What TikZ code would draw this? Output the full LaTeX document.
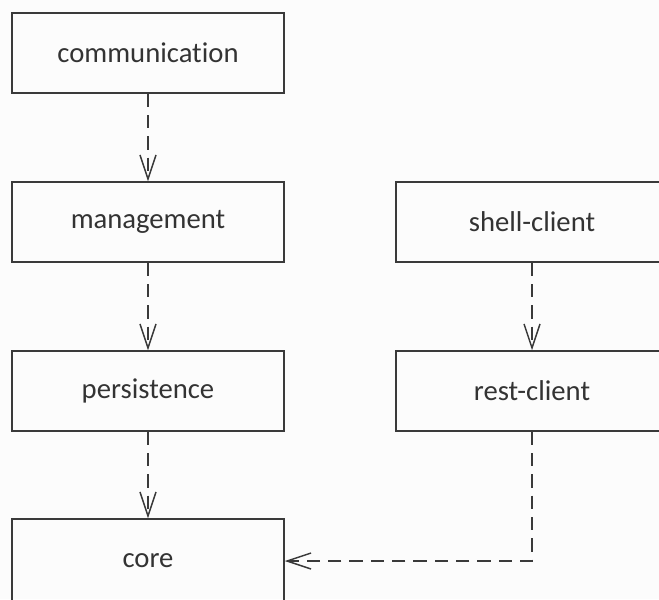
\documentclass[tikz,border=0pt]{standalone}
\usepackage{fontspec}
\setmainfont[Ligatures=NoCommon]{Carlito}
\usetikzlibrary{arrows.meta}
\definecolor{linecol}{HTML}{3A3A3A}
\definecolor{textcol}{HTML}{333333}
\definecolor{bgcol}{HTML}{FCFCFC}
\begin{document}
\begin{tikzpicture}[x=0.75pt,y=-0.75pt,
  box/.style={draw=linecol, line width=1.1pt, minimum width=204pt, minimum height=60pt,
    inner sep=0pt, font=\fontsize{21.5}{25}\selectfont, text=textcol},
  dep/.style={draw=linecol, line width=1.1pt, dash pattern=on 10pt off 6pt,
    -{Straight Barb[length=18pt,width=12pt,line width=1.1pt]}}]
\useasboundingbox (0,0) rectangle (659,599);
\fill[bgcol] (0,0) rectangle (659,599);
\clip (0,0) rectangle (659,599);
\node[box] (comm) at (148,53) {communication};
\node[box] (mgmt) at (148,222) {management};
\node[box] (pers) at (148,391) {persistence};
\node[box, minimum height=63pt] (core) at (148,561) {core};
\node[box] (shell) at (532,222) {shell-client};
\node[box] (rest) at (532,391) {rest-client};
\draw[dep] (comm) -- (mgmt);
\draw[dep] (mgmt) -- (pers);
\draw[dep] (pers) -- (core);
\draw[dep] (shell) -- (rest);
\draw[dep] (rest) |- (core);
\end{tikzpicture}
\end{document}
